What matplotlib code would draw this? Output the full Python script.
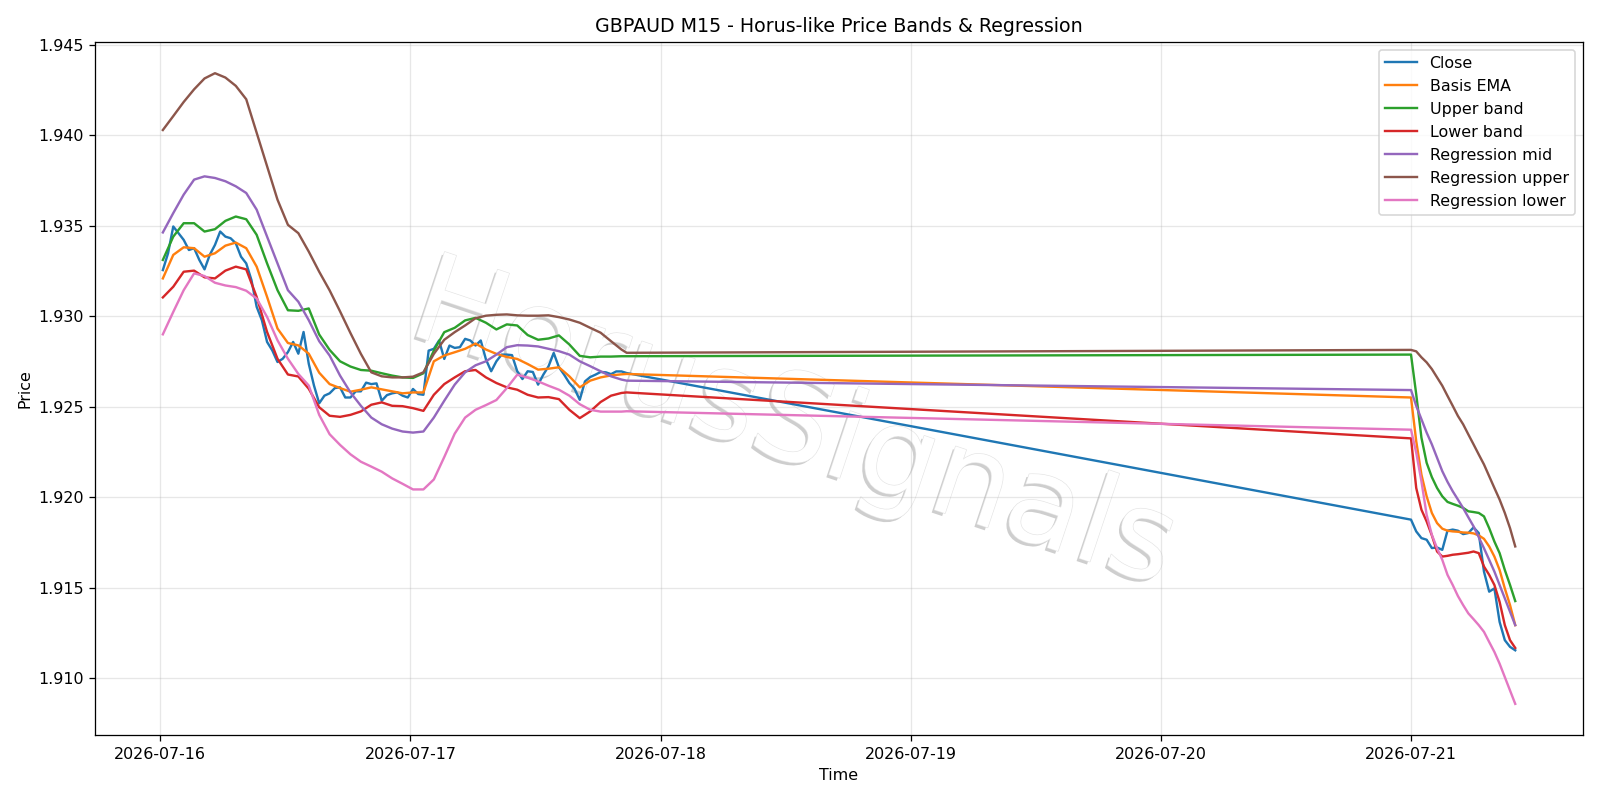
import matplotlib
matplotlib.use("Agg")
import matplotlib.pyplot as plt
import matplotlib.patheffects as pe
import pandas as pd

# time grids: hourly for the smooth lines, 30 min for close, 30 min on Jul 21
t_seg1 = list(pd.date_range("2026-07-16 00:15", periods=45, freq="h")) + [pd.Timestamp("2026-07-17 20:45")]
t_seg1_close = list(pd.date_range("2026-07-16 00:15", "2026-07-17 20:45", freq="30min"))
t_seg2 = list(pd.date_range("2026-07-21 00:00", "2026-07-21 10:00", freq="30min"))

close_seg1 = [1.93254, 1.93347, 1.93495, 1.93458, 1.93421, 1.93365, 1.93375, 1.9331, 1.93258, 1.93338,
              1.93393, 1.93467, 1.93439, 1.9343, 1.93402, 1.93328, 1.93291, 1.93199, 1.93051, 1.92977,
              1.92857, 1.9281, 1.92746, 1.92764, 1.92801, 1.92857, 1.92792, 1.92912, 1.92736, 1.92616,
              1.92518, 1.9256, 1.92573, 1.92602, 1.92606, 1.9255, 1.9255, 1.92584, 1.92584, 1.92632,
              1.92624, 1.92628, 1.92532, 1.92563, 1.92573, 1.92578, 1.9256, 1.9255, 1.92597, 1.92569,
              1.92565, 1.92809, 1.92819, 1.92865, 1.92763, 1.92837, 1.92824, 1.92828, 1.92874, 1.92865,
              1.92837, 1.92865, 1.9276, 1.92695, 1.9275, 1.92787, 1.92787, 1.92784, 1.92695, 1.92652,
              1.92695, 1.92691, 1.92621, 1.92676, 1.92722, 1.92796, 1.92717, 1.92676, 1.9263, 1.92598,
              1.92537, 1.92639, 1.92663, 1.92676, 1.92691, 1.92689, 1.92679, 1.92694, 1.92694, 1.92685]
close_seg2 = [1.91875, 1.9181, 1.91773, 1.91764, 1.91718, 1.91721, 1.91708, 1.91814, 1.9182, 1.91814,
              1.91795, 1.91801, 1.91832, 1.91801, 1.91588, 1.91477, 1.91495, 1.9131, 1.91209, 1.91172, 1.91153]

ema_seg1 = [1.93208, 1.93338, 1.9338, 1.93375, 1.93328, 1.93347, 1.93389, 1.93406, 1.93375, 1.93273,
            1.93106, 1.92931, 1.92851, 1.92838, 1.92792, 1.92687, 1.92624, 1.92602, 1.92582, 1.92593,
            1.92606, 1.92595, 1.92584, 1.92573, 1.92578, 1.92578, 1.9275, 1.92782, 1.928, 1.92819,
            1.92848, 1.92815, 1.92791, 1.92774, 1.92763, 1.92735, 1.92704, 1.92709, 1.92717, 1.92667,
            1.92606, 1.92643, 1.92661, 1.92672, 1.92678, 1.9268]
ema_seg2 = [1.9255, 1.92309, 1.92124, 1.92004, 1.91912, 1.91856, 1.91825, 1.91814, 1.9181, 1.91808,
            1.91804, 1.91803, 1.91799, 1.91788, 1.91769, 1.91727, 1.91671, 1.91597, 1.91495, 1.91403, 1.91292]

upper_seg1 = [1.9331, 1.93439, 1.93513, 1.93513, 1.93467, 1.9348, 1.93526, 1.9355, 1.93535, 1.93449,
              1.93291, 1.93143, 1.93032, 1.93029, 1.93042, 1.92898, 1.92813, 1.9275, 1.92721, 1.92702,
              1.92698, 1.92684, 1.92671, 1.92661, 1.92658, 1.92684, 1.92809, 1.92911, 1.92935, 1.92976,
              1.9299, 1.92963, 1.92926, 1.92954, 1.92948, 1.92895, 1.92869, 1.92876, 1.92893, 1.92843,
              1.9278, 1.92772, 1.92776, 1.92776, 1.92778, 1.92778]
upper_seg2 = [1.92787, 1.92568, 1.92328, 1.92189, 1.9211, 1.9205, 1.92004, 1.91973, 1.91962, 1.91952,
              1.9194, 1.91921, 1.91917, 1.91912, 1.91893, 1.91828, 1.91754, 1.9169, 1.91597, 1.91514, 1.91425]

lower_seg1 = [1.93103, 1.93162, 1.93245, 1.93251, 1.93214, 1.93208, 1.93251, 1.93273, 1.93258, 1.93106,
              1.92912, 1.92764, 1.92677, 1.92666, 1.92598, 1.92496, 1.92449, 1.92443, 1.92454, 1.92473,
              1.9251, 1.92523, 1.92504, 1.92502, 1.92491, 1.92476, 1.92565, 1.92624, 1.92661, 1.92695,
              1.92702, 1.92661, 1.9263, 1.92606, 1.92593, 1.92565, 1.9255, 1.92552, 1.92541, 1.92482,
              1.92436, 1.92473, 1.92525, 1.9256, 1.92575, 1.92578]
lower_seg2 = [1.92324, 1.9205, 1.9193, 1.91865, 1.91788, 1.91699, 1.91671, 1.91675, 1.91681, 1.91684,
              1.91688, 1.91692, 1.91699, 1.9169, 1.91616, 1.9157, 1.91514, 1.91421, 1.91292, 1.91209, 1.91166]

reg_mid_seg1 = [1.93462, 1.93569, 1.93671, 1.93754, 1.93772, 1.93763, 1.93745, 1.93717, 1.9368, 1.93588,
                1.93439, 1.93291, 1.93143, 1.93079, 1.92977, 1.92861, 1.92782, 1.92671, 1.92578, 1.92504,
                1.92439, 1.92402, 1.92378, 1.92362, 1.92356, 1.92362, 1.92439, 1.92532, 1.92621, 1.92689,
                1.92728, 1.9275, 1.92787, 1.92828, 1.92839, 1.92837, 1.92832, 1.92819, 1.92806, 1.92787,
                1.9275, 1.92723, 1.92695, 1.92667, 1.92649, 1.92643]
reg_mid_seg2 = [1.92591, 1.92504, 1.9243, 1.92356, 1.92291, 1.92217, 1.92143, 1.92084, 1.92032, 1.91986,
                1.91939, 1.91888, 1.91838, 1.91778, 1.91717, 1.91653, 1.91588, 1.91514, 1.9144, 1.91366, 1.91292]

reg_up_seg1 = [1.94028, 1.94105, 1.94183, 1.94253, 1.94313, 1.94342, 1.94318, 1.94272, 1.94198, 1.94013,
               1.93828, 1.93643, 1.93504, 1.93458, 1.93356, 1.93245, 1.93142, 1.93026, 1.92906, 1.92791,
               1.92689, 1.92667, 1.92661, 1.92661, 1.92665, 1.92689, 1.92791, 1.92869, 1.92911, 1.92948,
               1.92988, 1.93002, 1.93007, 1.93009, 1.93004, 1.93002, 1.93002, 1.93004, 1.92994, 1.92981,
               1.92963, 1.92935, 1.92908, 1.92861, 1.92815, 1.92797]
reg_up_seg2 = [1.92813, 1.92805, 1.92772, 1.92744, 1.92707, 1.92661, 1.92615, 1.92559, 1.92504, 1.92448,
               1.92402, 1.92346, 1.92291, 1.92235, 1.9218, 1.92115, 1.9205, 1.91986, 1.91912, 1.91828, 1.91727]

reg_low_seg1 = [1.92899, 1.93023, 1.93143, 1.93236, 1.93221, 1.93184, 1.93169, 1.9316, 1.9314, 1.93097,
                1.92995, 1.92866, 1.92764, 1.9268, 1.92616, 1.92454, 1.92347, 1.92288, 1.92236, 1.92195,
                1.92168, 1.9214, 1.92103, 1.92073, 1.92042, 1.92042, 1.92097, 1.92221, 1.9235, 1.92439,
                1.92482, 1.92508, 1.92536, 1.92602, 1.92676, 1.9266, 1.92639, 1.92615, 1.92593, 1.9256,
                1.92513, 1.92482, 1.92472, 1.92472, 1.92472, 1.92474]
reg_low_seg2 = [1.92372, 1.92245, 1.92087, 1.91902, 1.91791, 1.91717, 1.91653, 1.9157, 1.91514, 1.91453,
                1.91403, 1.91357, 1.91325, 1.91292, 1.91255, 1.91199, 1.91144, 1.91079, 1.91005, 1.90931, 1.90857]

watermark = "HorusSignals"


def main():
    t_close = t_seg1_close + t_seg2
    t_lines = t_seg1 + t_seg2

    fig, ax = plt.subplots(figsize=(14, 7), dpi=800 / 7)
    ax.plot(t_close, close_seg1 + close_seg2, label="Close")
    ax.plot(t_lines, ema_seg1 + ema_seg2, label="Basis EMA")
    ax.plot(t_lines, upper_seg1 + upper_seg2, label="Upper band")
    ax.plot(t_lines, lower_seg1 + lower_seg2, label="Lower band")
    ax.plot(t_lines, reg_mid_seg1 + reg_mid_seg2, label="Regression mid")
    ax.plot(t_lines, reg_up_seg1 + reg_up_seg2, label="Regression upper")
    ax.plot(t_lines, reg_low_seg1 + reg_low_seg2, label="Regression lower")

    # watermark behind the lines: white letters, grey shadow peeking out
    ax.text(pd.Timestamp("2026-07-18 11:45"), 1.9221, watermark, fontsize=77,
            color="white", rotation=-18.5, rotation_mode="anchor",
            ha="center", va="baseline", zorder=1,
            path_effects=[pe.SimplePatchShadow(offset=(-1.8, -1.8), shadow_rgbFace="#808080", alpha=0.38),
                          pe.Stroke(linewidth=0.8, foreground="#e4e4e4"),
                          pe.Normal()])

    ax.set_title("GBPAUD M15 - Horus-like Price Bands & Regression")
    ax.set_xlabel("Time")
    ax.set_ylabel("Price")
    ax.grid(alpha=0.3)
    ax.legend(loc="upper right")
    fig.tight_layout()
    fig.savefig("out.png", dpi=fig.dpi)


if __name__ == "__main__":
    main()
